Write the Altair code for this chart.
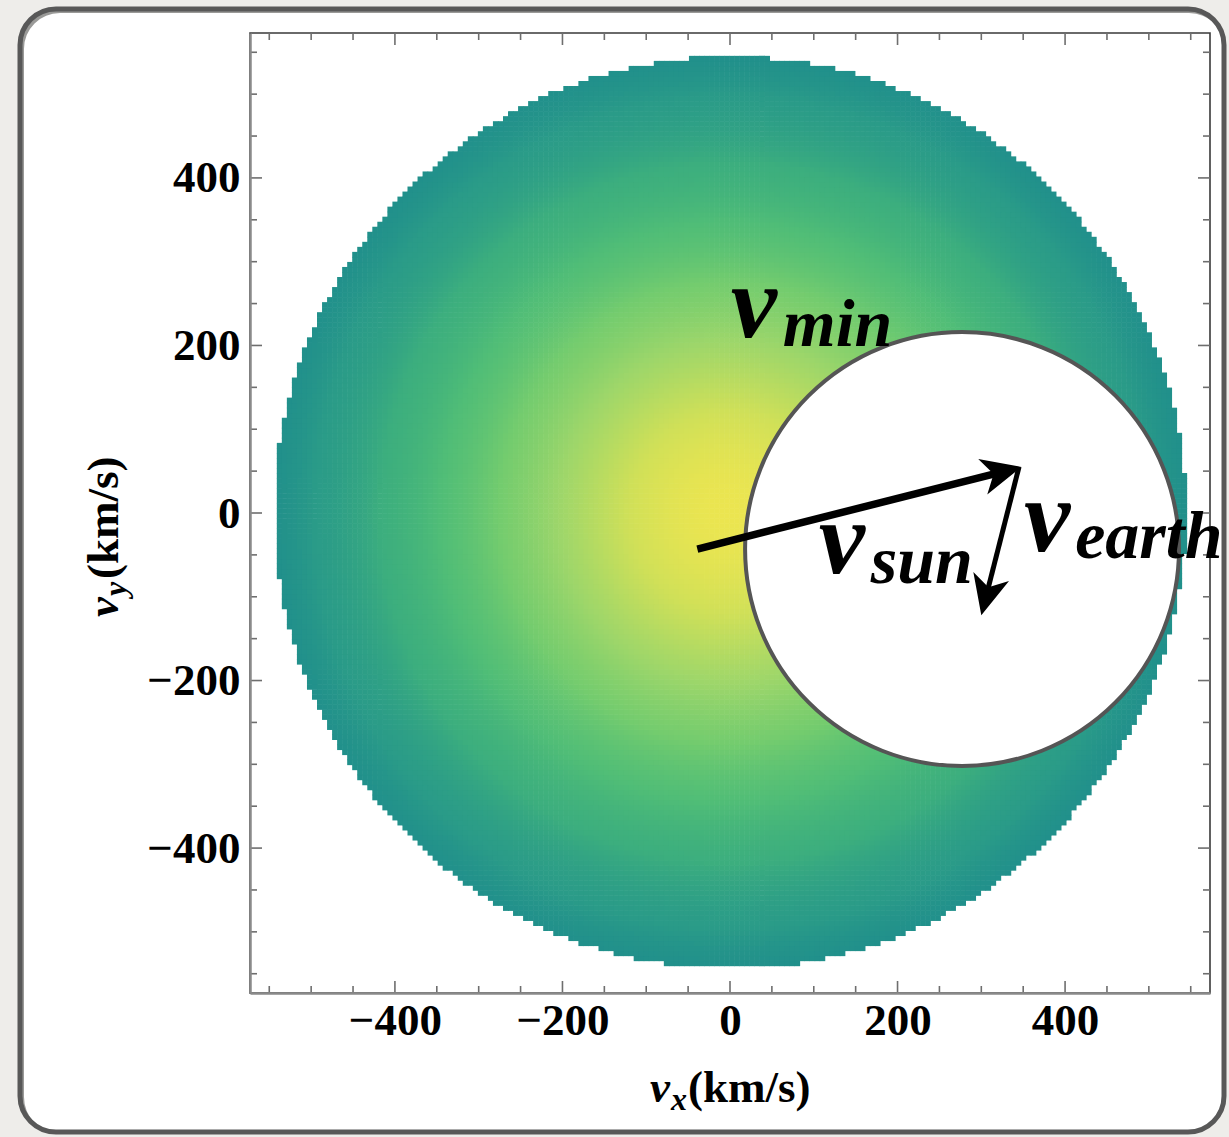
import numpy as np
import pandas as pd
import altair as alt

# ---------------- data ----------------
V0 = 220.0            # most probable speed of the halo Maxwellian (km/s)
V_ESC = 544.0         # escape speed: radius of the coloured disc (km/s)
PEAK = (0.0, 0.0)     # centre of the distribution
STEP = 6.0            # density grid resolution (km/s)

HOLE_CENTER = (277.0, -43.0)   # centre of the v_min circle
HOLE_RADIUS = 259.0            # radius of the v_min circle

# colour read at several speeds from the centre
SPEED_STOPS = [0, 120, 205, 275, 347, 418, 497, 545]
COLOR_STOPS = ["#ebe550", "#d0e058", "#9dd66a", "#74cc6e",
               "#50bd77", "#3cae7e", "#2a9b88", "#21908b"]

SUN_TAIL, SUN_TIP = (-39.0, -43.0), (348.0, 55.0)
EARTH_TAIL, EARTH_TIP = (345.0, 55.0), (300.0, -122.0)

LABELS_BIG = [("v", 1, 210), ("v", 106, -72), ("v", 351, -45)]
LABELS_SUB = [("min", 63, 199), ("sun", 168, -83), ("earth", 412, -54)]

MAJOR_TICKS = [-400, -200, 0, 200, 400]
MINOR_TICKS = [v for v in range(-550, 551, 50) if v not in MAJOR_TICKS]
DOMAIN = [-573, 573]

W = H = 960
PX_PER_UNIT = W / (DOMAIN[1] - DOMAIN[0])
SERIF = "Liberation Serif"
BG = "#eeedea"

# ---------------- density grid ----------------
edges = np.arange(-V_ESC - STEP / 2, V_ESC + STEP / 2, STEP)
gx, gy = np.meshgrid(edges, edges)
cx, cy = gx + STEP / 2, gy + STEP / 2
r = np.hypot(cx - PEAK[0], cy - PEAK[1])
dh = np.hypot(cx - HOLE_CENTER[0], cy - HOLE_CENTER[1])
keep = (np.hypot(cx, cy) <= V_ESC) & (dh >= HOLE_RADIUS - 2 * STEP)
f = np.exp(-(r / V0) ** 2)
grid = pd.DataFrame({"x": gx[keep].round(2), "y": gy[keep].round(2),
                     "f": f[keep].round(7)})

f_stops = [float(np.exp(-(s / V0) ** 2)) for s in SPEED_STOPS]
cdomain = f_stops[::-1]
crange = COLOR_STOPS[::-1]

xscale = alt.Scale(domain=DOMAIN, nice=False, zero=False)
yscale = alt.Scale(domain=DOMAIN, nice=False, zero=False)

axis_common = dict(values=MAJOR_TICKS, ticks=False, grid=False, title=None,
                   labelFont=SERIF, labelFontSize=45, labelFontWeight="bold",
                   labelColor="black", domainColor="#8a8a8a", domainWidth=2.5,
                   zindex=1)
X_AXIS = alt.Axis(labelPadding=5, **axis_common)
Y_AXIS = alt.Axis(labelPadding=10, **axis_common)


def X(field):
    return alt.X(field, scale=xscale, axis=X_AXIS)


def Y(field):
    return alt.Y(field, scale=yscale, axis=Y_AXIS)


one = pd.DataFrame({"a": [0]})

# ---------------- background panel (paints only outside the rounded panel) ----------------
PL, PR, PT, PB, RAD = -230, 974, -24, 1099, 36
GAP = 60
outer = alt.Chart(one).mark_rect(fillOpacity=0, stroke=BG, strokeWidth=2 * GAP,
                                 cornerRadius=RAD + GAP).encode(
    x=alt.value(PL - GAP), x2=alt.value(PR + GAP),
    y=alt.value(PT - GAP), y2=alt.value(PB + GAP))
shadow = alt.Chart(one).mark_rect(fillOpacity=0, stroke="#9a9a98", strokeWidth=4,
                                  cornerRadius=RAD + 2).encode(
    x=alt.value(PL - 2 + 4), x2=alt.value(PR + 2 + 1),
    y=alt.value(PT - 2 + 4), y2=alt.value(PB + 2 + 1))
border = alt.Chart(one).mark_rect(fillOpacity=0, stroke="#585858", strokeWidth=5,
                                  cornerRadius=RAD).encode(
    x=alt.value(PL), x2=alt.value(PR), y=alt.value(PT), y2=alt.value(PB))

# ---------------- density ----------------
heat = alt.Chart(grid).transform_calculate(
    x2=f"datum.x + {STEP * 1.12}", y2=f"datum.y + {STEP * 1.12}"
).mark_rect(strokeWidth=0).encode(
    x=X("x:Q"), x2="x2:Q", y=Y("y:Q"), y2="y2:Q",
    color=alt.Color("f:Q", scale=alt.Scale(domain=cdomain, range=crange,
                                           interpolate="rgb"), legend=None),
)

# ---------------- v_min circle ----------------
hole_df = pd.DataFrame({"x": [HOLE_CENTER[0]], "y": [HOLE_CENTER[1]]})
hole_size = (2 * HOLE_RADIUS * PX_PER_UNIT) ** 2
hole = alt.Chart(hole_df).mark_point(shape="circle", filled=True, fill="white",
                                     stroke="#555555", strokeWidth=4,
                                     opacity=1, size=hole_size).encode(
    x=X("x:Q"), y=Y("y:Q"))

# ---------------- frame and ticks ----------------
frame = alt.Chart(one).mark_rect(fillOpacity=0, stroke="#3a3a3a", strokeWidth=1.6).encode(
    x=alt.value(0), x2=alt.value(W), y=alt.value(0), y2=alt.value(H))

tick_layers = []
for vals, size in [(MAJOR_TICKS, 24), (MINOR_TICKS, 14)]:
    tdf = pd.DataFrame({"x": vals, "y": vals})
    for edge in [0, H]:
        tick_layers.append(alt.Chart(tdf).mark_tick(
            orient="vertical", size=size, thickness=1.6, color="#6e6e6e",
            clip=True, opacity=1).encode(x=X("x:Q"), y=alt.value(edge)))
    for edge in [0, W]:
        tick_layers.append(alt.Chart(tdf).mark_tick(
            orient="horizontal", size=size, thickness=1.6, color="#6e6e6e",
            clip=True, opacity=1).encode(y=Y("y:Q"), x=alt.value(edge)))

# ---------------- arrows ----------------
def arrow(tail, tip, width):
    dx, dy = tip[0] - tail[0], tip[1] - tail[1]
    L = np.hypot(dx, dy)
    back = 20.0
    end = (tip[0] - dx / L * back, tip[1] - dy / L * back)
    ang = float(np.degrees(np.arctan2(dx, dy))) % 360
    seg = pd.DataFrame({"x": [tail[0]], "y": [tail[1]], "x2": [end[0]], "y2": [end[1]]})
    line = alt.Chart(seg).mark_rule(color="black", strokeWidth=width, strokeCap="butt").encode(
        x=X("x:Q"), y=Y("y:Q"), x2="x2:Q", y2="y2:Q")
    head_df = pd.DataFrame({"x": [tip[0]], "y": [tip[1]]})
    head = alt.Chart(head_df).mark_point(
        shape="M0,0 L0.46,1 L0,0.72 L-0.46,1 Z", filled=True, color="black",
        opacity=1, size=6400, angle=ang, strokeWidth=0).encode(
        x=X("x:Q"), y=Y("y:Q"))
    return [line, head]

arrows = arrow(SUN_TAIL, SUN_TIP, 7.5) + arrow(EARTH_TAIL, EARTH_TIP, 5)

# ---------------- in-plot labels ----------------
big_df = pd.DataFrame(LABELS_BIG, columns=["t", "x", "y"])
sub_df = pd.DataFrame(LABELS_SUB, columns=["t", "x", "y"])
big = alt.Chart(big_df).mark_text(align="left", baseline="alphabetic", font=SERIF,
                                  fontStyle="italic", fontWeight="bold", fontSize=104,
                                  color="black").encode(
    x=X("x:Q"), y=Y("y:Q"), text="t:N")
sub = alt.Chart(sub_df).mark_text(align="left", baseline="alphabetic", font=SERIF,
                                  fontStyle="italic", fontWeight="bold", fontSize=68,
                                  color="black").encode(
    x=X("x:Q"), y=Y("y:Q"), text="t:N")

# ---------------- axis titles ----------------
def ptext(t, x, y, size, italic, angle=0):
    kw = dict(align="left", baseline="alphabetic", font=SERIF, fontSize=size,
              fontWeight="bold", color="black", angle=angle)
    if italic:
        kw["fontStyle"] = "italic"
    return alt.Chart(one).mark_text(**kw).encode(
        x=alt.value(x), y=alt.value(y), text=alt.value(t))

titles = [
    ptext("v", 400, 1069, 45, True),
    ptext("x", 421, 1077, 32, True),
    ptext("(km/s)", 438, 1069, 45, False),
    ptext("v", -132, 584, 45, True, 270),
    ptext("y", -124, 563, 32, True, 270),
    ptext("(km/s)", -132, 546, 45, False, 270),
]

chart = alt.layer(
    heat, hole, frame, *tick_layers, *arrows, big, sub, *titles, shadow, outer, border
).properties(
    width=W, height=H,
    padding={"left": 250, "top": 33, "right": 19, "bottom": 144},
    autosize=alt.AutoSizeParams(type="none"),
    background="white",
).configure_view(strokeWidth=0)

chart.save("out.html", embed_options={"renderer": "svg", "actions": False})
